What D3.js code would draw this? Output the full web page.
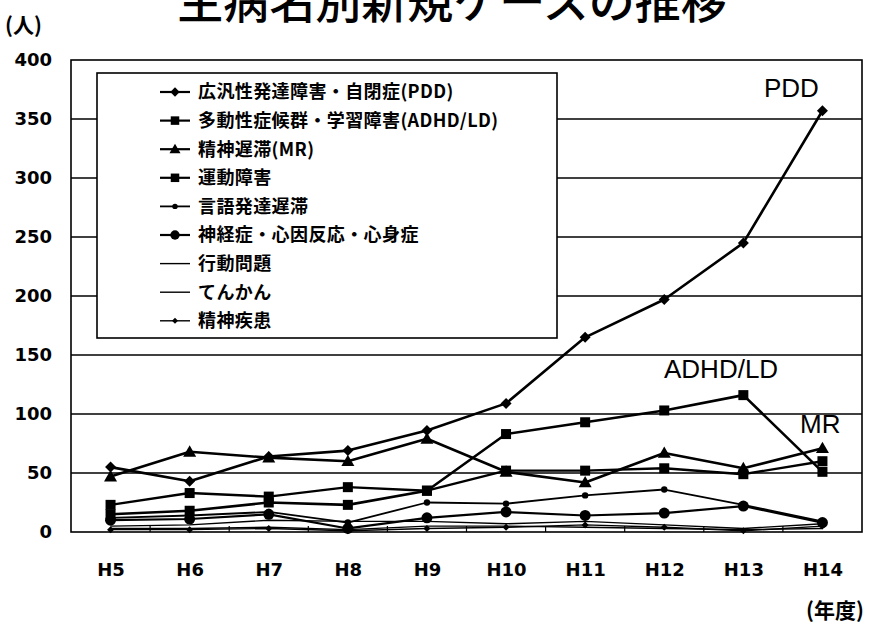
<!DOCTYPE html>
<html>
<head>
<meta charset="utf-8">
<script src="https://cdn.jsdelivr.net/npm/d3@7"></script>
<style>
  html, body { margin: 0; padding: 0; background: #fff; }
  svg { display: block; }
</style>
</head>
<body>
<svg id="chart" width="892" height="623"></svg>
<script>
// 年度 categories
const years = ["H5", "H6", "H7", "H8", "H9", "H10", "H11", "H12", "H13", "H14"];
const yTicks = [0, 50, 100, 150, 200, 250, 300, 350, 400];

// new cases per year, by main diagnosis
const pdd      = [55, 43, 64, 69, 86, 109, 165, 197, 245, 357];
const adhdLd   = [15, 18, 25, 23, 35, 83, 93, 103, 116, 51];
const mr       = [47, 68, 63, 60, 79, 51, 42, 67, 54, 71];
const motor    = [23, 33, 30, 38, 35, 52, 52, 54, 49, 60];
const speech   = [12, 14, 17, 8, 25, 24, 31, 36, 23, 9];
const neurosis = [10, 11, 15, 3, 12, 17, 14, 16, 22, 8];
const behavior = [5, 6, 10, 9, 9, 7, 9, 6, 3, 7];
const epilepsy = [3, 3, 4, 2, 5, 5, 4, 3, 2, 3];
const mental   = [2, 2, 3, 1, 3, 4, 6, 4, 1, 5];

const seriesNames = [
  "広汎性発達障害・自閉症(PDD)",
  "多動性症候群・学習障害(ADHD/LD)",
  "精神遅滞(MR)",
  "運動障害",
  "言語発達遅滞",
  "神経症・心因反応・心身症",
  "行動問題",
  "てんかん",
  "精神疾患"
];
const seriesValues = [pdd, adhdLd, mr, motor, speech, neurosis, behavior, epilepsy, mental];
const seriesMarkers = ["diamond", "square", "triangle", "square", "dot", "circle", "none", "none", "smalldiamond"];
const seriesWidths = [2.6, 2.6, 2.6, 2.4, 1.8, 2.2, 1.4, 1.4, 1.4];

const series = seriesNames.map((name, i) => ({
  name, values: seriesValues[i], marker: seriesMarkers[i], width: seriesWidths[i]
}));

const svg = d3.select("#chart");
const plot = { left: 71, right: 862, top: 60, bottom: 532 };

const x = d3.scalePoint().domain(years).range([plot.left, plot.right]).padding(0.5);
const y = d3.scaleLinear().domain([0, 400]).range([plot.bottom, plot.top]);

const numFont = "'DejaVu Sans', sans-serif";
const jpFont = "'Noto Sans CJK JP', sans-serif";

// title (runs off the top edge of the page)
svg.append("text")
  .attr("x", 452).attr("y", 18)
  .attr("text-anchor", "middle")
  .attr("font-family", jpFont)
  .attr("font-weight", 500)
  .attr("font-size", 46)
  .text("主病名別新規ケースの推移");

// unit labels
svg.append("text")
  .attr("x", 5).attr("y", 33)
  .attr("font-family", jpFont).attr("font-weight", 700).attr("font-size", 21)
  .text("(人)");
svg.append("text")
  .attr("x", 864).attr("y", 618)
  .attr("text-anchor", "end")
  .attr("font-family", jpFont).attr("font-weight", 700).attr("font-size", 21)
  .text("(年度)");

// horizontal gridlines
svg.append("g")
  .selectAll("line")
  .data(yTicks.filter(d => d > 0 && d < 400))
  .join("line")
  .attr("x1", plot.left).attr("x2", plot.right)
  .attr("y1", d => y(d)).attr("y2", d => y(d))
  .attr("stroke", "#000").attr("stroke-width", 1.6);

// y axis labels
const yAxis = svg.append("g")
  .attr("transform", `translate(${plot.left},0)`)
  .call(d3.axisLeft(y).tickValues(yTicks).tickSize(0).tickPadding(19));
yAxis.select(".domain").remove();
yAxis.selectAll("text")
  .attr("font-family", numFont).attr("font-weight", 700).attr("font-size", 18)
  .attr("fill", "#000");

// x axis labels
const xAxis = svg.append("g")
  .attr("transform", `translate(0,${plot.bottom})`)
  .call(d3.axisBottom(x).tickSize(0).tickPadding(31));
xAxis.select(".domain").remove();
xAxis.selectAll("text")
  .attr("font-family", numFont).attr("font-weight", 700).attr("font-size", 18)
  .attr("fill", "#000");

// small inward ticks between categories
const step = x.step();
svg.append("g")
  .selectAll("line")
  .data(years.slice(0, -1))
  .join("line")
  .attr("x1", d => x(d) + step / 2).attr("x2", d => x(d) + step / 2)
  .attr("y1", plot.bottom).attr("y2", plot.bottom - 6)
  .attr("stroke", "#000").attr("stroke-width", 1.2);

// plot frame
svg.append("rect")
  .attr("x", plot.left).attr("y", plot.top)
  .attr("width", plot.right - plot.left).attr("height", plot.bottom - plot.top)
  .attr("fill", "none").attr("stroke", "#000").attr("stroke-width", 1.6);

// marker shapes
function drawMarker(g, type, cx, cy, scale) {
  const s = scale || 1;
  if (type === "diamond") {
    const r = 5.5 * s;
    g.append("path").attr("d", `M${cx},${cy - r}L${cx + r},${cy}L${cx},${cy + r}L${cx - r},${cy}Z`).attr("fill", "#000");
  } else if (type === "smalldiamond") {
    const r = 3.5 * s;
    g.append("path").attr("d", `M${cx},${cy - r}L${cx + r},${cy}L${cx},${cy + r}L${cx - r},${cy}Z`).attr("fill", "#000");
  } else if (type === "square") {
    const r = 5 * s;
    g.append("rect").attr("x", cx - r).attr("y", cy - r).attr("width", 2 * r).attr("height", 2 * r).attr("fill", "#000");
  } else if (type === "triangle") {
    const r = 6.5 * s;
    g.append("path").attr("d", `M${cx},${cy - r}L${cx + r},${cy + r * 0.75}L${cx - r},${cy + r * 0.75}Z`).attr("fill", "#000");
  } else if (type === "circle") {
    g.append("circle").attr("cx", cx).attr("cy", cy).attr("r", 5.5 * s).attr("fill", "#000");
  } else if (type === "dot") {
    g.append("circle").attr("cx", cx).attr("cy", cy).attr("r", 3.2 * s).attr("fill", "#000");
  }
}

// legend
const legend = { x: 97, y: 73, w: 460, h: 265, rowTop: 92, rowStep: 28.6 };
svg.append("rect")
  .attr("x", legend.x).attr("y", legend.y)
  .attr("width", legend.w).attr("height", legend.h)
  .attr("fill", "#fff").attr("stroke", "#000").attr("stroke-width", 1.6);

series.forEach((s, i) => {
  const ry = legend.rowTop + i * legend.rowStep;
  const g = svg.append("g");
  g.append("line")
    .attr("x1", 160).attr("x2", 190).attr("y1", ry).attr("y2", ry)
    .attr("stroke", "#000").attr("stroke-width", Math.min(s.width, 2.2));
  drawMarker(g, s.marker, 175, ry, 0.85);
  g.append("text")
    .attr("x", 198).attr("y", ry).attr("dy", "0.36em")
    .attr("font-family", jpFont).attr("font-weight", 700).attr("font-size", 18)
    .attr("letter-spacing", 0.4)
    .text(s.name);
});

// series lines and markers (lighter series first)
const line = d3.line()
  .x((d, i) => x(years[i]))
  .y(d => y(d));

series.slice().reverse().forEach(s => {
  const g = svg.append("g");
  g.append("path")
    .datum(s.values)
    .attr("d", line)
    .attr("fill", "none")
    .attr("stroke", "#000")
    .attr("stroke-width", s.width)
    .attr("stroke-linejoin", "round");
  s.values.forEach((v, i) => drawMarker(g, s.marker, x(years[i]), y(v)));
});

// series annotations
const notes = [
  { text: "PDD", x: 764, y: 97 },
  { text: "ADHD/LD", x: 664, y: 378 },
  { text: "MR", x: 800, y: 433 }
];
svg.append("g")
  .selectAll("text")
  .data(notes)
  .join("text")
  .attr("x", d => d.x).attr("y", d => d.y)
  .attr("font-family", "'Liberation Sans', Arial, sans-serif")
  .attr("font-size", 26)
  .text(d => d.text);
</script>
</body>
</html>
